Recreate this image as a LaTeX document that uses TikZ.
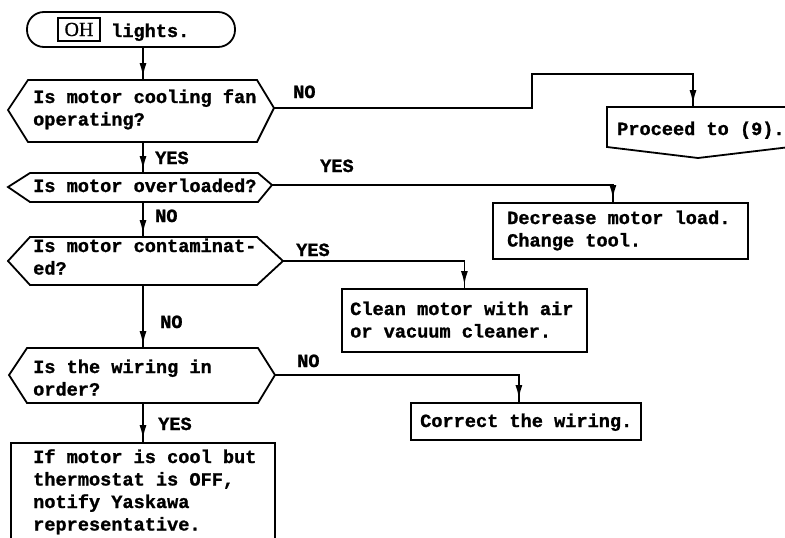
\documentclass[tikz,border=0pt]{standalone}
\usepackage{fontspec}
\setmonofont{Liberation Mono}[BoldFont={Liberation Mono Bold}, BoldFeatures={FakeBold=1.2}]
\newfontfamily\ohfont{Liberation Serif}[FakeBold=0.6]
\usetikzlibrary{arrows.meta,decorations.markings}

\tikzset{
  outline/.style={line width=1.8pt, line join=miter},
  flow/.style={line width=1.8pt, postaction={decorate},
    decoration={markings, mark=at position -3pt with {\arrow{Latex[length=14pt,width=7pt]}}}},
  txt/.style={anchor=base west, inner sep=0pt,
    font=\ttfamily\bfseries\fontsize{18.6}{22.5}\selectfont},
  boxnode/.style={draw, outline, inner sep=0pt, anchor=north west},
}
\newcommand{\lines}[1]{\begin{tabular}[t]{@{}l@{}}#1\end{tabular}}

\begin{document}
\begin{tikzpicture}[x=1pt,y=-1pt]
\useasboundingbox (0,0) rectangle (785,538);

% start terminal
\node[draw, outline, rounded corners=17pt, minimum width=208pt, minimum height=35pt,
      inner sep=0pt] (start) at (131,29.5) {};
\node[draw, line width=1.5pt, inner sep=0pt, minimum width=42pt, minimum height=23pt,
      font=\ohfont\fontsize{20}{20}\selectfont] (oh) at (79,29.5) {OH};
\node[txt] (lights) at (111,37) {lights.};

% decision 1: cooling fan
\coordinate (q1n) at (143,80);
\coordinate (q1s) at (143,142);
\coordinate (q1e) at (274,108);
\draw[outline] (8,110) -- (28,80) -- (257,80) -- (q1e) -- (257,142) -- (28,142) -- cycle;
\node[txt] (q1) at (33,103) {\lines{Is motor cooling fan\\operating?}};
\draw[flow] (start.south -| q1n) -- (q1n);

% off-page connector
\coordinate (p9n) at (693,107);
\coordinate (jog) at (532,74);
\draw[outline] (607,107) -- (790,107) -- (790,147) -- (698,158) -- (607,147) -- cycle;
\node[txt] (p9) at (617,135) {Proceed to (9).};
\draw[flow] (q1e) -| (jog) -| (p9n);
\node[txt] (no1) at (293,98) {NO};

% decision 2: overload
\coordinate (q2n) at (143,173);
\coordinate (q2s) at (143,202);
\coordinate (q2e) at (272,185);
\draw[outline] (8,187) -- (30,173) -- (258,173) -- (q2e) -- (258,202) -- (30,202) -- cycle;
\node[txt] (q2) at (33,192) {Is motor overloaded?};
\draw[flow] (q1s) -- (q2n);
\node[txt] (yes1) at (155,164) {YES};

\node[boxnode, minimum width=255pt, minimum height=56pt] (dec) at (492,202) {};
\node[txt] (dect) at (507,224) {\lines{Decrease motor load.\\Change tool.}};
\draw[flow] (q2e) -| ([xshift=-7.5pt]dec.north);
\node[txt] (yes2) at (320,172) {YES};

% decision 3: contamination
\coordinate (q3n) at (143,237);
\coordinate (q3s) at (143,285);
\coordinate (q3e) at (283,261);
\draw[outline] (8,261) -- (30,237) -- (257,237) -- (q3e) -- (257,285) -- (30,285) -- cycle;
\node[txt] (q3) at (33,252) {\lines{Is motor contaminat-\\ed?}};
\draw[flow] (q2s) -- (q3n);
\node[txt] (no2) at (155,222) {NO};

\node[boxnode, minimum width=245pt, minimum height=63pt] (cln) at (341,288) {};
\node[txt] (clnt) at (350,315) {\lines{Clean motor with air\\or vacuum cleaner.}};
\draw[flow] (q3e) -| (cln.north);
\node[txt] (yes3) at (296,256) {YES};

% decision 4: wiring
\coordinate (q4n) at (143,348);
\coordinate (q4s) at (143,403);
\coordinate (q4e) at (275,375);
\draw[outline] (9,375) -- (27,348) -- (258,348) -- (q4e) -- (258,403) -- (27,403) -- cycle;
\node[txt] (q4) at (33,373) {\lines{Is the wiring in\\order?}};
\draw[flow] (q3s) -- (q4n);
\node[txt] (no3) at (160,328) {NO};

\node[boxnode, minimum width=230pt, minimum height=37pt] (wir) at (410,402) {};
\node[txt] (wirt) at (420,427) {Correct the wiring.};
\draw[flow] (q4e) -| ([xshift=-7pt]wir.north);
\node[txt] (no4) at (297,367) {NO};

% final action
\node[boxnode, minimum width=264pt, minimum height=130pt] (fin) at (10,442) {};
\node[txt] (fint) at (33,463) {\lines{If motor is cool but\\thermostat is OFF,\\notify Yaskawa\\representative.}};
\draw[flow] (q4s) -- (fin.north -| q4s);
\node[txt] (yes4) at (158,430) {YES};
\end{tikzpicture}
\end{document}
